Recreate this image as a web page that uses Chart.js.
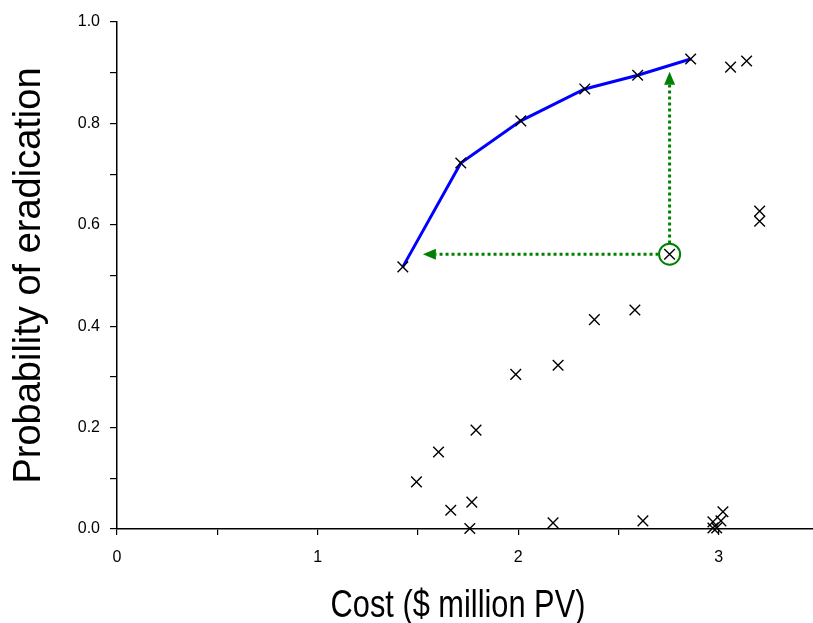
<!DOCTYPE html>
<html>
<head>
<meta charset="utf-8">
<script src="https://cdn.jsdelivr.net/npm/chart.js@4"></script>
<style>
  html, body { margin: 0; padding: 0; background: #fff; overflow: hidden; }
  #wrap { width: 813px; height: 623px; }
</style>
</head>
<body>
<div id="wrap"><canvas id="chart"></canvas></div>
<script>
// === Data ===
// all strategies (cost in $ million PV, probability of eradication)
const costs = [1.425, 1.714, 2.013, 2.332, 2.596, 2.860, 3.059, 3.139, 3.204, 3.204,
  2.755, 1.493, 1.603, 1.664, 1.790, 1.769, 1.759, 1.988, 2.199, 2.174,
  2.380, 2.582, 2.622, 2.971, 2.971, 3.021, 3.011, 2.990];
const probs = [0.517, 0.722, 0.805, 0.868, 0.895, 0.927, 0.911, 0.923, 0.627, 0.607,
  0.542, 0.093, 0.152, 0.037, 0.195, 0.053, 0.001, 0.305, 0.323, 0.012,
  0.413, 0.432, 0.016, 0.002, 0.014, 0.034, 0.016, 0.002];

// efficient frontier
const frontierCost = [1.425, 1.714, 2.013, 2.332, 2.596, 2.860];
const frontierProb = [0.517, 0.722, 0.805, 0.868, 0.895, 0.927];

// circled strategy and the two arrows leaving it
const chosenCost = [2.755];
const chosenProb = [0.542];
const arrowLeft = { fromX: 2.70, toX: 1.525, y: 0.542 };
const arrowUp = { x: 2.755, fromY: 0.563, toY: 0.902 };

const xTicks = [0, 1, 2, 3];
const yTicks = [0.0, 0.2, 0.4, 0.6, 0.8, 1.0];
const xTitle = "Cost ($ million PV)";
const yTitle = "Probability of eradication";

const green = "#008000";
const fontFam = "'Liberation Sans', Arial, sans-serif";

// === Arrows plugin ===
const arrowPlugin = {
  id: "arrows",
  afterDatasetsDraw(chart) {
    const ctx = chart.ctx;
    const xs = chart.scales.x, ys = chart.scales.y;
    const head = 13, half = 5.5;

    ctx.save();
    ctx.strokeStyle = green;
    ctx.fillStyle = green;
    ctx.lineWidth = 3;
    ctx.setLineDash([3, 3]);

    // horizontal arrow (to the left)
    const hy = ys.getPixelForValue(arrowLeft.y);
    const hx0 = xs.getPixelForValue(arrowLeft.fromX);
    const hx1 = xs.getPixelForValue(arrowLeft.toX);
    ctx.beginPath();
    ctx.moveTo(hx0, hy);
    ctx.lineTo(hx1 + head, hy);
    ctx.stroke();

    // vertical arrow (upwards)
    const vx = xs.getPixelForValue(arrowUp.x);
    const vy0 = ys.getPixelForValue(arrowUp.fromY);
    const vy1 = ys.getPixelForValue(arrowUp.toY);
    ctx.beginPath();
    ctx.moveTo(vx, vy0);
    ctx.lineTo(vx, vy1 + head);
    ctx.stroke();

    ctx.setLineDash([]);
    ctx.beginPath();
    ctx.moveTo(hx1, hy);
    ctx.lineTo(hx1 + head, hy - half);
    ctx.lineTo(hx1 + head, hy + half);
    ctx.closePath();
    ctx.fill();

    ctx.beginPath();
    ctx.moveTo(vx, vy1);
    ctx.lineTo(vx - half, vy1 + head);
    ctx.lineTo(vx + half, vy1 + head);
    ctx.closePath();
    ctx.fill();
    ctx.restore();
  }
};

// === X title plugin (narrow look like the original) ===
const xTitlePlugin = {
  id: "xTitle",
  afterDraw(chart) {
    const ctx = chart.ctx;
    const xs = chart.scales.x;
    const cx = (xs.left + xs.right) / 2 - 7;
    ctx.save();
    ctx.font = "38px " + fontFam;
    ctx.fillStyle = "#000";
    ctx.textAlign = "center";
    ctx.textBaseline = "alphabetic";
    ctx.translate(cx, chart.height - 6);
    ctx.scale(0.81, 1);
    ctx.fillText(xTitle, 0, 0);
    ctx.restore();
  }
};

// === Chart ===
new Chart(document.getElementById("chart"), {
  type: "scatter",
  data: {
    datasets: [
      {
        label: "Frontier",
        type: "line",
        data: frontierCost.map((c, i) => ({ x: c, y: frontierProb[i] })),
        borderColor: "#0000ff",
        borderWidth: 3,
        pointRadius: 0,
        fill: false,
        tension: 0,
        order: 3
      },
      {
        label: "Strategies",
        data: costs.map((c, i) => ({ x: c, y: probs[i] })),
        pointStyle: "crossRot",
        pointRadius: 7.5,
        borderColor: "#000",
        borderWidth: 1.4,
        clip: false,
        order: 1
      },
      {
        label: "Chosen",
        data: chosenCost.map((c, i) => ({ x: c, y: chosenProb[i] })),
        pointStyle: "circle",
        pointRadius: 10.5,
        borderColor: green,
        backgroundColor: "rgba(0,0,0,0)",
        borderWidth: 2,
        order: 2
      }
    ]
  },
  options: {
    responsive: true,
    maintainAspectRatio: false,
    animation: false,
    layout: { autoPadding: false, padding: { top: 22, right: 0, left: 0, bottom: 0 } },
    plugins: { legend: { display: false }, tooltip: { enabled: false } },
    scales: {
      x: {
        type: "linear",
        min: 0,
        max: 3.47,
        afterBuildTicks(scale) {
          const t = [];
          for (let v = 0; v <= 3.47; v += 0.5) t.push({ value: v });
          scale.ticks = t;
        },
        afterFit(scale) {
          scale.height = 94;
          scale.paddingLeft = 0;
          scale.paddingRight = 0;
        },
        border: { display: true, color: "#000", width: 1.5 },
        grid: { drawOnChartArea: false, drawTicks: true, tickLength: 6, color: "#000", lineWidth: 1.2 },
        ticks: {
          autoSkip: false,
          maxRotation: 0,
          padding: 13,
          color: "#000",
          font: { family: fontFam, size: 16 },
          callback: v => (xTicks.includes(v) ? String(v) : "")
        },
        title: { display: false }
      },
      y: {
        type: "linear",
        min: 0,
        max: 1,
        afterBuildTicks(scale) {
          const t = [];
          for (let i = 0; i <= 10; i++) t.push({ value: i / 10 });
          scale.ticks = t;
        },
        afterFit(scale) { scale.width = 117; },
        border: { display: true, color: "#000", width: 1.5 },
        grid: { drawOnChartArea: false, drawTicks: true, tickLength: 7, color: "#000", lineWidth: 1.2 },
        ticks: {
          autoSkip: false,
          padding: 10,
          color: "#000",
          font: { family: fontFam, size: 16 },
          callback: v => {
            const r = Math.round(v * 10) / 10;
            return yTicks.some(t => Math.abs(t - r) < 1e-9) && Math.abs(v - r) < 1e-9 ? r.toFixed(1) : "";
          }
        },
        title: {
          display: true,
          text: yTitle,
          color: "#000",
          font: { family: fontFam, size: 38, lineHeight: 1 },
          padding: { top: 11, bottom: 0 }
        }
      }
    }
  },
  plugins: [arrowPlugin, xTitlePlugin]
});
</script>
</body>
</html>
